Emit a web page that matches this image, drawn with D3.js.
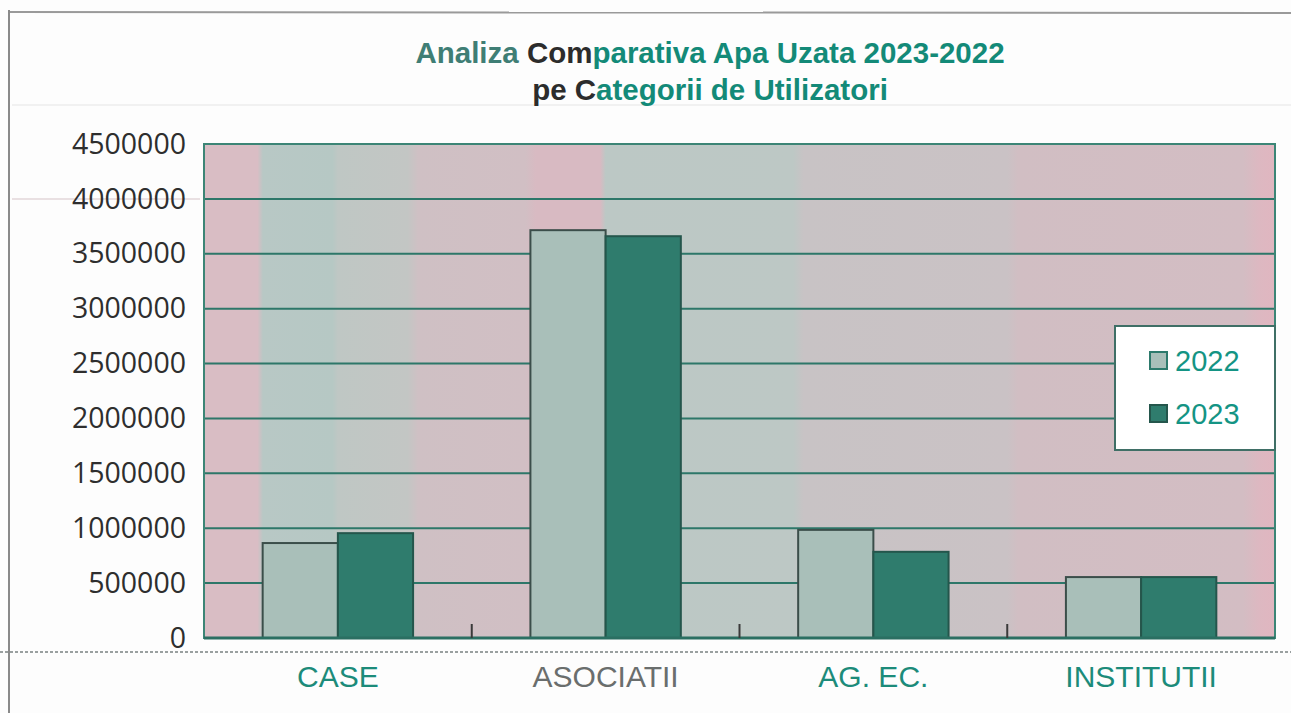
<!DOCTYPE html>
<html>
<head>
<meta charset="utf-8">
<script src="https://cdn.jsdelivr.net/npm/d3@7"></script>
<style>
  html, body { margin: 0; padding: 0; background: #fdfdfd; }
  svg { display: block; }
</style>
</head>
<body>
<svg id="chart" width="1291" height="713"></svg>
<script>
// ---- data ----
const categories = ["CASE", "ASOCIATII", "AG. EC.", "INSTITUTII"];
const seriesNames = ["2022", "2023"];
const values2022 = [865000, 3715000, 985000, 555000];
const values2023 = [955000, 3660000, 785000, 555000];
const yTicks = [0, 500000, 1000000, 1500000, 2000000, 2500000, 3000000, 3500000, 4000000, 4500000];

const W = 1291, H = 713;
const margin = { left: 204, right: 16, top: 144, bottom: 75 };
const pw = W - margin.left - margin.right;
const ph = H - margin.top - margin.bottom;

const svg = d3.select("#chart");

// page frame (scanned page border)
svg.append("line").attr("x1", 9).attr("x2", W).attr("y1", 12).attr("y2", 13)
  .attr("stroke", "#9a9a9a").attr("stroke-width", 2);
svg.append("line").attr("x1", 9).attr("x2", 9).attr("y1", 10).attr("y2", H)
  .attr("stroke", "#8a8a8a").attr("stroke-width", 2);
svg.append("line").attr("x1", 12).attr("x2", 200).attr("y1", 199).attr("y2", 199)
  .attr("stroke", "#e2d6d9").attr("stroke-width", 1.5);
svg.append("line").attr("x1", 12).attr("x2", W).attr("y1", 105).attr("y2", 105)
  .attr("stroke", "#f1f1f1").attr("stroke-width", 2);

// striped scan background gradient
const defs = svg.append("defs");
const grad = defs.append("linearGradient").attr("id", "bg").attr("x1", "0%").attr("x2", "100%");
const stops = [
  [0, "#d9bdc4"], [0.05, "#d9bdc4"], [0.055, "#b8c8c5"], [0.12, "#b6c8c4"],
  [0.125, "#bfc7c4"], [0.19, "#c3c6c4"], [0.2, "#cfc0c4"], [0.3, "#d1bfc4"],
  [0.31, "#d8bac2"], [0.37, "#d8bac2"], [0.375, "#bcc8c5"], [0.55, "#bdc8c5"],
  [0.56, "#c8c3c5"], [0.75, "#cac2c5"], [0.76, "#d1bec3"], [0.97, "#d3bdc3"],
  [0.985, "#ddb8c1"], [1, "#e0b6c0"]
];
stops.forEach(([o, c]) => grad.append("stop").attr("offset", o).attr("stop-color", c));

const g = svg.append("g").attr("transform", `translate(${margin.left},${margin.top})`);

const x = d3.scaleBand().domain(categories).range([0, pw]).paddingInner(0).paddingOuter(0);
const inner = d3.scaleBand().domain(seriesNames).range([0, x.bandwidth()]).paddingOuter(0.78).paddingInner(0);
const y = d3.scaleLinear().domain([0, 4500000]).range([ph, 0]);

g.append("rect").attr("width", pw).attr("height", ph).attr("fill", "url(#bg)");

// gridlines
g.selectAll(".grid").data(yTicks.slice(1)).enter().append("line")
  .attr("x1", 0).attr("x2", pw)
  .attr("y1", d => y(d)).attr("y2", d => y(d))
  .attr("stroke", "#2d7769").attr("stroke-width", 2);

// bars
const colors = { "2022": "#a9bfb9", "2023": "#2f7c6d" };
const strokes = { "2022": "#3b4e4a", "2023": "#24564c" };
const rows = categories.map((c, i) => ({ cat: c, vals: [
  { s: "2022", v: values2022[i] }, { s: "2023", v: values2023[i] }
]}));
const grp = g.selectAll(".grp").data(rows).enter().append("g")
  .attr("transform", d => `translate(${x(d.cat)},0)`);
grp.selectAll("rect").data(d => d.vals).enter().append("rect")
  .attr("x", d => inner(d.s))
  .attr("y", d => y(d.v))
  .attr("width", inner.bandwidth())
  .attr("height", d => ph - y(d.v))
  .attr("fill", d => colors[d.s])
  .attr("stroke", d => strokes[d.s])
  .attr("stroke-width", 2);

// plot border
g.append("rect").attr("width", pw).attr("height", ph).attr("fill", "none")
  .attr("stroke", "#3c8576").attr("stroke-width", 2);
g.append("line").attr("x1", 0).attr("x2", pw).attr("y1", ph).attr("y2", ph)
  .attr("stroke", "#2b6f62").attr("stroke-width", 3);

// category separator ticks (inside, from bottom)
g.selectAll(".ctick").data(categories.slice(1)).enter().append("line")
  .attr("x1", d => x(d)).attr("x2", d => x(d))
  .attr("y1", ph - 14).attr("y2", ph)
  .attr("stroke", "#3a3a3a").attr("stroke-width", 2);

// y axis labels
const yAxis = d3.axisLeft(y).tickValues(yTicks).tickSize(0).tickPadding(18).tickFormat(d3.format("d"));
const ya = g.append("g").call(yAxis);
ya.select(".domain").remove();
ya.selectAll("text")
  .attr("font-family", "'Open Sans', 'Noto Sans', sans-serif")
  .attr("font-size", 28.5).attr("fill", "#2e2e2e");

// dashed scan line below plot
svg.append("line").attr("x1", 0).attr("x2", W).attr("y1", 652).attr("y2", 652)
  .attr("stroke", "#9aa0a0").attr("stroke-width", 2).attr("stroke-dasharray", "3,2");

// x axis labels
const xAxis = d3.axisBottom(x).tickSize(0).tickPadding(28);
const xa = g.append("g").attr("transform", `translate(0,${ph})`).call(xAxis);
xa.select(".domain").remove();
xa.selectAll("text")
  .attr("font-family", "'Liberation Sans', Arial, sans-serif")
  .attr("font-size", 30)
  .attr("fill", d => d === "ASOCIATII" ? "#6a6e6d" : "#1c8b7a");

// title
const title = svg.append("text").attr("x", 710).attr("text-anchor", "middle")
  .attr("font-family", "'Liberation Sans', Arial, sans-serif")
  .attr("font-weight", "bold").attr("font-size", 29.5);
const l1 = title.append("tspan").attr("x", 710).attr("y", 63);
l1.append("tspan").attr("fill", "#3f7e75").text("Analiza ");
l1.append("tspan").attr("fill", "#2c2c2c").text("Com");
l1.append("tspan").attr("fill", "#138a78").text("parativa Apa Uzata 2023-2022");
const l2 = title.append("tspan").attr("x", 710).attr("y", 100);
l2.append("tspan").attr("fill", "#2c2c2c").text("pe C");
l2.append("tspan").attr("fill", "#138a78").text("ategorii de Utilizatori");

// legend
const lg = svg.append("g").attr("transform", "translate(1115,326)");
lg.append("rect").attr("width", 160).attr("height", 124).attr("fill", "#ffffff")
  .attr("stroke", "#3f6f66").attr("stroke-width", 2);
seriesNames.forEach((s, i) => {
  const yy = 35 + i * 53;
  lg.append("rect").attr("x", 35).attr("y", yy - 9).attr("width", 17).attr("height", 17)
    .attr("fill", colors[s]).attr("stroke", s === "2022" ? "#2d7a6c" : "#24564c").attr("stroke-width", 2);
  lg.append("text").attr("x", 60).attr("y", yy + 10)
    .attr("font-family", "'Liberation Sans', Arial, sans-serif")
    .attr("font-size", 29).attr("fill", "#149484").text(s);
});
</script>
</body>
</html>
